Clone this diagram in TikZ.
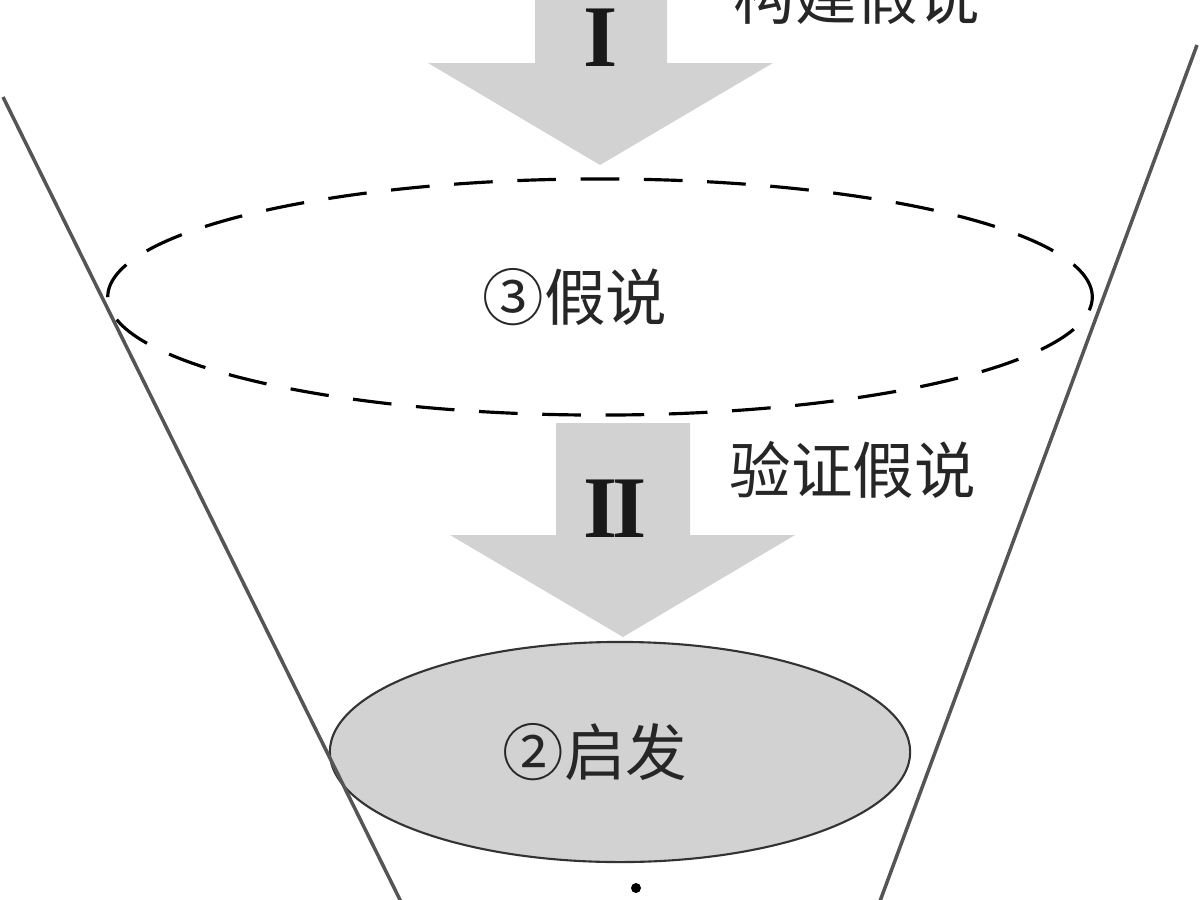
\documentclass[tikz,border=0pt]{standalone}
\usepackage{fontspec}
\newfontfamily\cjk{Noto Sans CJK SC}
\newfontfamily\romfont{Liberation Serif}
\usetikzlibrary{shapes.geometric, positioning}
\definecolor{arrowgray}{RGB}{210,210,210}
\definecolor{funnelgray}{RGB}{85,85,85}

\begin{document}
\begin{tikzpicture}[
        x=0.01cm, y=-0.01cm,
        funnel/.style = {draw=funnelgray, line width=1pt},
        blockarrow/.style = {fill=arrowgray},
        numeral/.style = {font=\romfont\bfseries\fontsize{25}{28}\selectfont, text=black!90, inner sep=0pt},
        lbl/.style = {font=\cjk\fontsize{17.5}{20}\selectfont, text=black!85, inner sep=0pt},
        hypo/.style = {draw, ellipse, dash pattern=on 11pt off 7pt, line width=0.9pt, minimum width=9.84cm, minimum height=2.36cm},
        heur/.style = {draw=black!80, ellipse, fill=arrowgray, line width=0.6pt, minimum width=5.8cm, minimum height=2.2cm}
    ]
        \clip (0,0) rectangle (1200,900);
        \useasboundingbox (0,0) rectangle (1200,900);

        % Arrows
        \fill [blockarrow] (535,-20) -- (667,-20) -- (667,63) -- (773,63) -- (600,165) -- (428,63) -- (535,63) -- cycle;
        \fill [blockarrow] (556,423) -- (690,423) -- (690,535) -- (795,535) -- (623,637) -- (450,535) -- (556,535) -- cycle;
        \node (numI) [numeral] at (601,38) {I};
        \node (numII) [numeral] at (615,509) {I\kern-0.06em I};

        % Ellipses
        \node (hyp) [hypo] at (600,297) {};
        \node (hyptxt) [lbl] at ([xshift=-0.25cm]hyp.center) {③假说};
        \node (heu) [heur] at (620,752) {};
        \node (heutxt) [lbl] at ([xshift=-0.25cm]heu.center) {②启发};

        % Labels
        \node (build) [lbl, anchor=west] at (733,-4) {构建假说};
        \node (test) [lbl, anchor=west] at (729,470) {验证假说};

        % Funnel
        \coordinate (ltop) at (3,97);
        \coordinate (lbot) at (410,920);
        \coordinate (rtop) at (1197,45);
        \coordinate (rbot) at (873,920);
        \draw [funnel] (ltop) -- (lbot);
        \draw [funnel] (rtop) -- (rbot);

        \node (dot) [circle, fill, inner sep=0pt, minimum size=0.1cm] at (636,888) {};

    \end{tikzpicture}
\end{document}
